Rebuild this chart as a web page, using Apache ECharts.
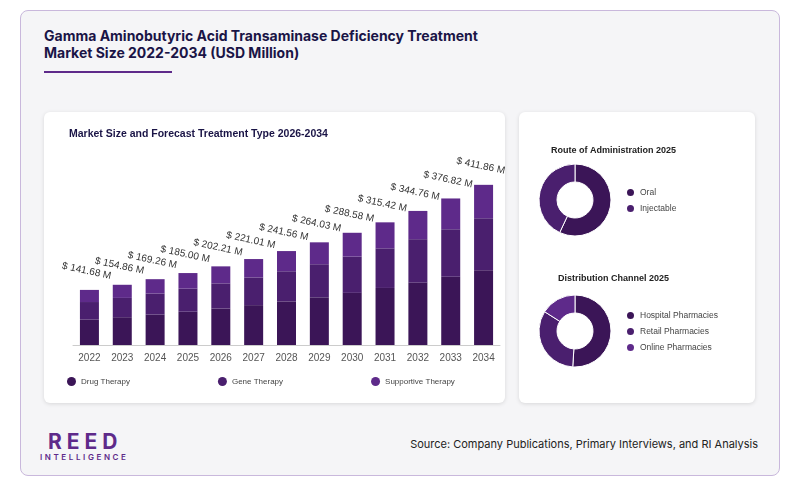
<!DOCTYPE html>
<html>
<head>
<meta charset="utf-8">
<script src="https://cdn.jsdelivr.net/npm/echarts@6/dist/echarts.min.js"></script>
<style>
  body { margin: 0; width: 800px; height: 493px; background: #fff; font-family: Inter, "Noto Sans", sans-serif; overflow: hidden; }
  .frame { position: absolute; left: 20px; top: 10px; width: 758px; height: 464px; border: 1px solid #c9b8dc; border-radius: 8px; background: #f5f5f7; }
  .title { position: absolute; left: 44px; top: 27px; font-size: 14px; font-weight: 700; color: #1a1446; line-height: 17px; }
  .rule { position: absolute; left: 44px; top: 71px; width: 128px; height: 2px; background: #5e2a8a; }
  .panel { position: absolute; background: #fff; border-radius: 6px; box-shadow: 0 1px 4px rgba(0,0,0,0.12); }
  .reed { position: absolute; left: 48px; top: 429px; font-size: 21px; font-weight: 700; letter-spacing: 5px; color: #5e2a8a; }
  .intel { position: absolute; left: 40px; top: 452px; font-size: 8px; letter-spacing: 2.6px; color: #5e2a8a; font-weight: 600; }
  .src { position: absolute; right: 42px; top: 437px; font-size: 11px; color: #222; }
  #chart { position: absolute; left: 0; top: 0; width: 800px; height: 493px; }
</style>
</head>
<body>
<div class="frame"></div>
<div class="title">Gamma Aminobutyric Acid Transaminase Deficiency Treatment<br>Market Size 2022-2034 (USD Million)</div>
<div class="rule"></div>
<div class="panel" style="left:44px;top:112px;width:461px;height:291px"></div>
<div class="panel" style="left:519px;top:112px;width:236px;height:291px"></div>
<div class="reed">REED</div>
<div class="intel">INTELLIGENCE</div>
<div class="src">Source: Company Publications, Primary Interviews, and RI Analysis</div>
<div id="chart"></div>
<script>
const years = ['2022','2023','2024','2025','2026','2027','2028','2029','2030','2031','2032','2033','2034'];
const totals = [141.68,154.86,169.26,185.00,202.21,221.01,241.56,264.03,288.58,315.42,344.76,376.82,411.86];
const drugTherapy = [65.2,71.5,78.2,85.6,93.7,102.5,112.1,122.6,134.1,146.7,160.5,175.5,192.3];
const geneTherapy = [45.3,49.6,54.2,59.3,64.8,71.2,77.5,85.1,93.2,101.9,111.6,122.1,133.6];
const supportiveTherapy = [31.18,33.76,36.86,40.1,43.71,47.31,51.96,56.33,61.28,66.82,72.66,79.22,85.96];
const routeNames = ['Oral','Injectable'];
const routeValues = [57,43];
const channelNames = ['Hospital Pharmacies','Retail Pharmacies','Online Pharmacies'];
const channelValues = [51,33,16];

const c1 = '#3b1557', c2 = '#4a1f6e', c3 = '#5e2a8a';
const palette = [c1, c2, c3];
const chart = echarts.init(document.getElementById('chart'));

function barSeries(name, data, color, isTop) {
  return {
    name: name, type: 'bar', stack: 'total', data: data, barWidth: 19,
    itemStyle: { color: color },
    label: isTop ? {
      show: true, position: 'top', rotate: -12, distance: 8, offset: [-5, -5],
      fontSize: 10, color: '#333',
      formatter: p => '$ ' + totals[p.dataIndex].toFixed(2) + ' M'
    } : { show: false }
  };
}

function donut(name, names, values, cy) {
  return {
    name: name, type: 'pie', center: [575, cy], radius: [18, 36],
    startAngle: 90, clockwise: true, label: { show: false },
    itemStyle: { borderColor: '#fff', borderWidth: 1 },
    data: names.map((n, i) => ({ name: n, value: values[i], itemStyle: { color: palette[i] } }))
  };
}

const legendBase = { icon: 'circle', itemWidth: 9, itemHeight: 9, orient: 'vertical', itemGap: 5, textStyle: { fontSize: 8.5, color: '#444' } };

chart.setOption({
  color: palette,
  title: [
    { text: 'Market Size and Forecast Treatment Type 2026-2034', left: 64, top: 124, textStyle: { fontSize: 10.5, fontWeight: 'bold', color: '#1a1446' } },
    { text: 'Route of Administration 2025', left: 546, top: 141, textStyle: { fontSize: 9, fontWeight: 'bold', color: '#222' } },
    { text: 'Distribution Channel 2025', left: 553, top: 269, textStyle: { fontSize: 9, fontWeight: 'bold', color: '#222' } }
  ],
  grid: { left: 73, top: 170, width: 427, height: 175 },
  xAxis: {
    type: 'category', data: years,
    axisLine: { lineStyle: { color: '#ccc' } }, axisTick: { show: false },
    axisLabel: { color: '#555', fontSize: 10, margin: 8 }
  },
  yAxis: { type: 'value', min: 0, max: 450, show: false },
  legend: [
    { data: ['Drug Therapy','Gene Therapy','Supportive Therapy'], left: 62, top: 372, itemGap: 88, icon: 'circle', itemWidth: 9, itemHeight: 9, textStyle: { fontSize: 8, color: '#444' } },
    Object.assign({ data: routeNames, left: 620, top: 182 }, legendBase),
    Object.assign({ data: channelNames, left: 620, top: 305 }, legendBase)
  ],
  series: [
    barSeries('Drug Therapy', drugTherapy, c1, false),
    barSeries('Gene Therapy', geneTherapy, c2, false),
    barSeries('Supportive Therapy', supportiveTherapy, c3, true),
    donut('Route', routeNames, routeValues, 200),
    donut('Channel', channelNames, channelValues, 331)
  ]
});
</script>
</body>
</html>
